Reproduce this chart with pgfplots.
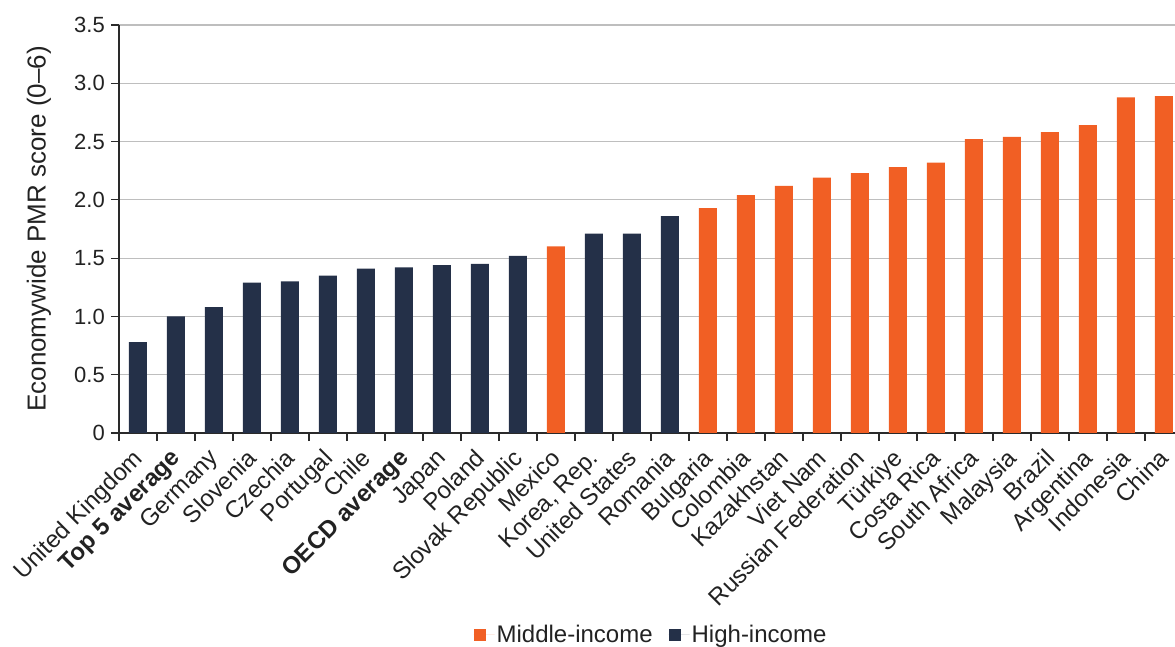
\documentclass[border=0pt]{standalone}
\usepackage{pgfplots}
\pgfplotsset{compat=1.18}
\usepackage{fontspec}
\setmainfont{Liberation Sans}
\definecolor{navy}{HTML}{243048}
\definecolor{orng}{HTML}{F15F24}
\definecolor{gridc}{HTML}{BEBEBE}
\definecolor{axc}{HTML}{2A2A2A}
\definecolor{txt}{HTML}{222222}
\begin{document}
\begin{tikzpicture}
\begin{axis}[
  at={(0pt,0pt)}, anchor=south west,
  scale only axis, width=1064pt, height=408pt,
  xmin=-0.5, xmax=27.5, ymin=0, ymax=3.5,
  axis lines=left,
  axis line style={-, line width=1.2pt, color=axc},
  ytick={0,0.5,1,1.5,2,2.5,3,3.5},
  yticklabels={0,0.5,1.0,1.5,2.0,2.5,3.0,3.5},
  ymajorgrids,
  major grid style={gridc, line width=1.2pt},
  xtick={0,...,27},
  xticklabels={United Kingdom,\textbf{Top 5 average},Germany,Slovenia,Czechia,Portugal,Chile,\textbf{OECD average},Japan,Poland,Slovak Republic,Mexico,{Korea, Rep.},United States,Romania,Bulgaria,Colombia,Kazakhstan,Viet Nam,Russian Federation,Türkiye,Costa Rica,South Africa,Malaysia,Brazil,Argentina,Indonesia,China},
  major x tick style={draw=none},
  minor xtick={-0.5,0.5,...,27.5},
  minor x tick style={axc, line width=1.2pt},
  y tick style={axc, line width=1.2pt},
  tick align=outside,
  major tick length=8pt,
  minor tick length=8pt,
  xticklabel style={rotate=45, anchor=north east, inner sep=1pt, font=\fontsize{24}{28}\selectfont, text=txt, xshift=-8pt, yshift=1pt},
  yticklabel style={font=\fontsize{22}{26}\selectfont, text=txt, inner sep=2pt, xshift=-4pt},
  ylabel={Economywide PMR score (0–6)},
  every axis y label/.style={at={(axis description cs:0,0.5)}, xshift=-80pt, rotate=90, anchor=center, font=\fontsize{26}{30}\selectfont, text=txt},
  legend style={at={(axis description cs:0.5,-0.495)}, anchor=center, draw=none, fill=none, legend columns=2, font=\fontsize{24}{28}\selectfont, text=txt, inner sep=0pt, /tikz/every even column/.append style={column sep=14pt}},
  legend image code/.code={\fill[#1,draw=none] (0pt,-6pt) rectangle (12pt,6pt); \path (0pt,0pt) -- (21pt,0pt);},
  legend cell align=left,
]
\addplot[ybar, bar width=18pt, bar shift=0pt, fill=orng, draw=none] coordinates {
(11,1.60) (15,1.93) (16,2.04) (17,2.12) (18,2.19) (19,2.23) (20,2.28) (21,2.32) (22,2.52) (23,2.54) (24,2.58) (25,2.64) (26,2.88) (27,2.89)};
\addlegendentry{Middle-income}
\addplot[ybar, bar width=18pt, bar shift=0pt, fill=navy, draw=none] coordinates {
(0,0.78) (1,1.00) (2,1.08) (3,1.29) (4,1.30) (5,1.35) (6,1.41) (7,1.42) (8,1.44) (9,1.45) (10,1.52) (12,1.71) (13,1.71) (14,1.86)};
\addlegendentry{High-income}
\end{axis}
\pgfresetboundingbox
\useasboundingbox (-119pt,-214pt) rectangle (1056pt,433pt);
\end{tikzpicture}
\end{document}
